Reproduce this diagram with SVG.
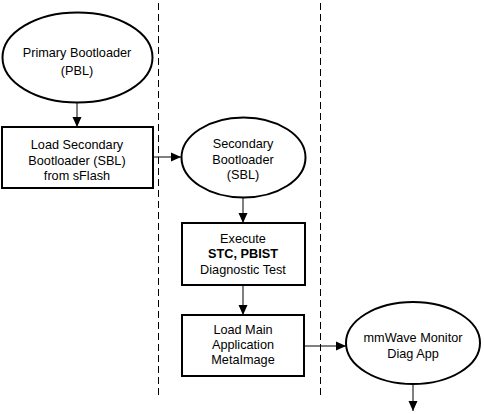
<svg xmlns="http://www.w3.org/2000/svg" width="484" height="414" viewBox="0 0 484 414">
<style>
.s{fill:#fff;stroke:#000;stroke-width:2}
.t{font-family:"Liberation Sans",Arial,sans-serif;font-size:12.7px;fill:#000;text-anchor:middle}
.c{stroke:#000;stroke-width:1;fill:none}
.d{stroke:#000;stroke-width:1;stroke-dasharray:7,4}
</style>
<defs>
<marker id="a" markerWidth="11" markerHeight="10" refX="10" refY="5" orient="auto" markerUnits="userSpaceOnUse">
<path d="M0,0.5 L10,5 L0,9.5 Z" fill="#000"/>
</marker>
</defs>
<rect width="484" height="414" fill="#fff"/>
<g id="lanes">
<line class="d" x1="158.5" y1="3" x2="158.5" y2="396"/>
<line class="d" x1="320.5" y1="3" x2="320.5" y2="396"/>
</g>
<g id="connectors">
<line class="c" x1="77" y1="102" x2="77" y2="127" marker-end="url(#a)"/>
<line class="c" x1="153" y1="157" x2="181" y2="157" marker-end="url(#a)"/>
<line class="c" x1="243" y1="197" x2="243" y2="223" marker-end="url(#a)"/>
<line class="c" x1="243" y1="285" x2="243" y2="315" marker-end="url(#a)"/>
<line class="c" x1="305" y1="346" x2="346" y2="346" marker-end="url(#a)"/>
<line class="c" x1="413" y1="384" x2="413" y2="411" marker-end="url(#a)"/>
</g>
<g id="pbl">
<ellipse class="s" cx="77.5" cy="57.5" rx="75" ry="45"/>
<text class="t" x="77" y="57">Primary Bootloader</text>
<text class="t" x="77" y="75">(PBL)</text>
</g>
<g id="loadsbl">
<rect class="s" x="2" y="127" width="151" height="61"/>
<text class="t" x="77" y="149">Load Secondary</text>
<text class="t" x="77" y="165">Bootloader (SBL)</text>
<text class="t" x="77" y="180">from sFlash</text>
</g>
<g id="sbl">
<ellipse class="s" cx="243.5" cy="157.5" rx="62" ry="40"/>
<text class="t" x="243" y="148">Secondary</text>
<text class="t" x="243" y="164">Bootloader</text>
<text class="t" x="243" y="179">(SBL)</text>
</g>
<g id="execute">
<rect class="s" x="182" y="223" width="123" height="62"/>
<text class="t" x="243" y="243">Execute</text>
<text class="t" x="243" y="258" font-weight="bold">STC, PBIST</text>
<text class="t" x="243" y="274">Diagnostic Test</text>
</g>
<g id="loadmain">
<rect class="s" x="182" y="315" width="122" height="61"/>
<text class="t" x="243" y="334">Load Main</text>
<text class="t" x="243" y="349">Application</text>
<text class="t" x="243" y="364">MetaImage</text>
</g>
<g id="monitor">
<ellipse class="s" cx="413" cy="343" rx="67" ry="41"/>
<text class="t" x="413" y="342">mmWave Monitor</text>
<text class="t" x="413" y="358">Diag App</text>
</g>
</svg>
